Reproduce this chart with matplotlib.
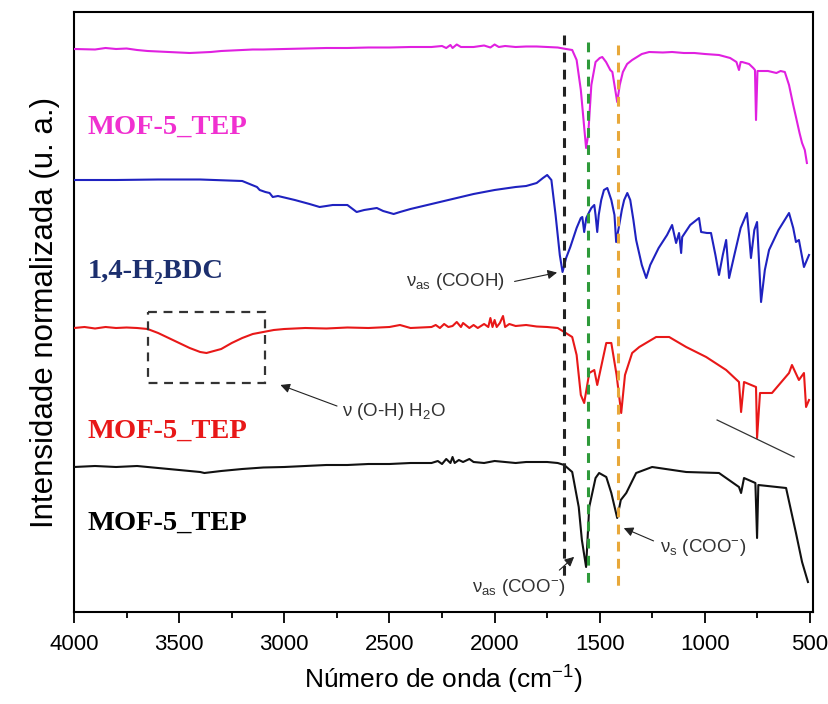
import matplotlib
matplotlib.use('Agg')
import matplotlib.pyplot as plt
from matplotlib.patches import Rectangle
from matplotlib.ticker import MultipleLocator

plt.rcParams['font.family'] = ['Liberation Sans', 'DejaVu Sans']
plt.rcParams['mathtext.fontset'] = 'custom'
plt.rcParams['mathtext.rm'] = 'Liberation Sans'
plt.rcParams['mathtext.it'] = 'Liberation Sans:italic'
plt.rcParams['mathtext.bf'] = 'Liberation Sans:bold'

# spectra: wavenumber (cm-1) and stacked intensity (offset units, larger = lower on plot)
wn_mag = [4000, 3900, 3850, 3800, 3750, 3700, 3650, 3600, 3550, 3500, 3450, 3400, 3350, 3300,
          3250, 3200, 3150, 3100, 3000, 2900, 2800, 2700, 2600, 2500, 2400, 2300, 2250, 2230,
          2210, 2200, 2180, 2160, 2100, 2050, 2020, 2000, 1980, 1950, 1900, 1850, 1800, 1750,
          1700, 1660, 1631, 1610, 1590,
          1575, 1565, 1555, 1540, 1520, 1500, 1488, 1470, 1450, 1440, 1430, 1417, 1405, 1390,
          1370, 1346, 1300, 1265, 1200, 1156, 1100, 1050, 1000, 933, 880, 850, 838, 830, 823,
          790, 770, 762, 757, 750, 720, 700, 680, 660, 640, 620, 600, 580, 567, 550, 538, 525, 515]
int_mag = [49, 49.5, 48, 49, 48.5, 50, 51, 51.5, 52, 52.5, 53, 52.5, 52, 51,
           50.5, 50, 49.5, 49.5, 49, 48.5, 48, 48, 47.5, 47.5, 47, 47, 46, 48,
           45, 48, 44.5, 47, 47, 45.5, 47.5, 44.5, 47, 46, 47, 46.5, 46.5, 47,
           47.5, 49, 50, 60, 90,
           125, 148, 135, 85, 62, 58, 57, 62, 70, 72, 85, 102, 85, 72,
           64, 60, 54, 52, 52.5, 52, 53, 53, 54, 55, 58, 62, 70, 62, 62,
           64, 68, 70, 120, 71, 71, 71, 72, 73, 71, 72, 85, 105, 117, 133, 143, 150, 163]

wn_bdc = [4000, 3800, 3600, 3400, 3200, 3130, 3117, 3090, 3070, 3055, 3030, 2950, 2880, 2832,
          2800, 2770, 2700, 2656, 2620, 2560, 2530, 2480, 2450, 2400, 2300, 2200, 2100, 2000,
          1900, 1850, 1800, 1770, 1750, 1730, 1710, 1690, 1677, 1660, 1640, 1610, 1590, 1583,
          1574, 1564, 1550, 1540, 1526, 1520, 1512, 1505, 1493, 1480, 1464, 1445, 1430, 1422,
          1410, 1395, 1384, 1369, 1355, 1340, 1327, 1300, 1279, 1260, 1220, 1180, 1156, 1137,
          1123, 1113, 1108, 1070, 1028, 1018, 990, 971, 950, 933, 915, 899, 885, 860, 830, 800,
          790, 781, 765, 752, 733, 715, 695, 650, 600, 580, 567, 553, 529, 505]
int_bdc = [180, 180, 179.5, 179.5, 181, 187, 190, 192, 193, 197, 196, 200, 204, 207,
           206, 205, 205, 212, 210, 208, 211, 214, 212, 209, 204, 199, 194, 190,
           187, 186, 183, 178, 175, 180, 215, 255, 272, 258, 247, 228, 218, 217,
           232, 218, 212, 208, 205, 215, 232, 215, 200, 190, 188, 200, 215, 242,
           228, 210, 200, 193, 200, 220, 240, 265, 278, 265, 248, 235, 225, 243,
           233, 253, 237, 225, 218, 232, 233, 233, 255, 275, 255, 240, 278, 255, 228, 213,
           235, 258, 230, 222, 302, 270, 250, 230, 213, 228, 242, 240, 267, 255]

wn_red = [4000, 3950, 3900, 3850, 3800, 3750, 3700, 3650, 3600, 3550, 3500, 3450, 3400, 3370,
          3300, 3250, 3200, 3150, 3100, 3050, 3000, 2900, 2800, 2700, 2600, 2500, 2450, 2400,
          2300, 2280, 2260, 2240, 2220, 2200, 2180, 2160, 2150, 2120, 2100, 2080, 2050, 2030,
          2020, 2010, 2000, 1990, 1975, 1960, 1950, 1930, 1900, 1850, 1800, 1750,
          1700, 1669, 1631, 1610, 1590, 1574, 1550, 1526, 1512, 1469, 1445, 1420, 1398, 1380,
          1346, 1312, 1232, 1170, 1089, 994, 899, 838, 828, 814, 757, 752, 738, 681, 600, 586,
          553, 529, 519, 505]
int_red = [328, 327, 328.5, 327, 328, 327.5, 328, 329, 333, 338, 343, 348, 352, 353,
           349, 343, 338, 334, 332, 330, 329, 328, 328.5, 327.5, 328, 327, 325, 328,
           327, 325, 328, 324, 327, 326, 322, 327, 323, 328, 325, 328, 324, 327,
           318, 327, 320, 327, 323, 316, 327, 324, 326, 325, 326.5, 327,
           328, 332, 337, 355, 395, 403, 373, 370, 385, 343, 343, 375, 413, 375,
           353, 347, 337, 337, 347, 357, 370, 382, 412, 382, 387, 438, 393, 393, 373, 365,
           380, 373, 407, 400]

wn_blk = [4000, 3900, 3800, 3700, 3600, 3500, 3400, 3380, 3300, 3200, 3100, 3000, 2900, 2800,
          2700, 2600, 2500, 2400, 2300, 2270, 2250, 2230, 2210, 2200, 2190, 2170, 2150, 2120,
          2100, 2050, 2000, 1950, 1900, 1850,
          1800, 1750, 1700, 1669, 1631, 1600, 1585, 1565, 1550, 1520, 1503, 1469, 1445, 1417,
          1400, 1374, 1327, 1251, 1089, 933, 838, 828, 814, 760, 752, 746, 614, 567, 538, 510]
int_blk = [467, 466, 467, 466, 468, 470, 472, 473, 471, 469, 467.5, 467, 466, 465,
           465, 464, 464, 463, 463, 461, 464, 459, 463, 457, 463, 460, 462, 459,
           462, 463, 461, 462, 463, 462,
           462, 462, 463, 465, 472, 507, 540, 567, 507, 478, 473, 477, 493, 518,
           500, 493, 473, 467, 472, 473, 487, 493, 478, 483, 538, 485, 488, 533, 562, 582]

series = [
    (wn_mag, int_mag, '#e020e0'),
    (wn_bdc, int_bdc, '#1f22c0'),
    (wn_red, int_red, '#e81818'),
    (wn_blk, int_blk, '#111111'),
]

labels = ['MOF-5_TEP', '1,4-H\u2082BDC', 'MOF-5_TEP', 'MOF-5_TEP']
label_colors = ['#f030d0', '#1c2f6e', '#e81818', '#000000']
label_y = [127, 271, 431, 523]

# band positions (cm-1) marked by dashed lines
bands = [1669, 1558, 1412]
band_colors = ['#222222', '#2e9a3a', '#e8a83a']
band_top = [35, 42, 45]
band_bottom = [577, 587, 590]

fig = plt.figure(figsize=(8.29, 7.04), dpi=100)
ax = fig.add_axes([74 / 829, 1 - 612 / 704, (813 - 74) / 829, (612 - 12) / 704])

for wn, inten, c in series:
    ax.plot(wn, inten, color=c, lw=1.5, zorder=3)

for b, c, t, bt in zip(bands, band_colors, band_top, band_bottom):
    ax.plot([b, b], [t, bt], color=c, lw=2.2, dashes=(3.2, 2.4), zorder=4)

for lab, c, y in zip(labels, label_colors, label_y):
    ax.text(3934, y, lab, color=c, fontsize=20.5, fontweight='bold',
            family=['Liberation Serif', 'DejaVu Serif'], va='center', ha='left')

# O-H box and annotations
ax.add_patch(Rectangle((3649, 312), 3093 - 3649, 383 - 312, fill=False, ec='#333333',
                       lw=1.6, ls=(0, (4, 3)), zorder=5))

arrow = dict(arrowstyle='-|>', color='#222222', lw=0.8, mutation_scale=14)
ax.annotate('', xy=(3031, 384), xytext=(2737, 407), arrowprops=arrow)
ax.text(2725, 412, '\u03bd (O-H) H$_2$O', fontsize=13.5, va='center', ha='left', color='#333333')

ax.annotate('', xy=(1690, 272), xytext=(1918, 282), arrowprops=arrow)
ax.text(1953, 281, '\u03bd$_{\\mathrm{as}}$ (COOH)', fontsize=13.5, va='center', ha='right',
        color='#333333')

ax.annotate('', xy=(1612, 555), xytext=(1702, 572), arrowprops=arrow)
ax.text(1665, 588, '\u03bd$_{\\mathrm{as}}$ (COO$^{-}$)', fontsize=13.5, va='center', ha='right',
        color='#333333')

ax.annotate('', xy=(1398, 527), xytext=(1232, 542), arrowprops=arrow)
ax.text(1215, 547, '\u03bd$_{\\mathrm{s}}$ (COO$^{-}$)', fontsize=13.5, va='center', ha='left',
        color='#333333')

ax.plot([942, 576], [420, 457], color='#333333', lw=0.9, zorder=5)

ax.set_xlim(4000, 486)
ax.set_ylim(612, 12)
ax.xaxis.set_major_locator(MultipleLocator(500))
ax.xaxis.set_minor_locator(MultipleLocator(250))
ax.set_yticks([])
ax.tick_params(axis='x', which='major', direction='out', length=8, width=1.3,
               labelsize=16, pad=8)
ax.tick_params(axis='x', which='minor', direction='out', length=4.5, width=1.3)
for s in ax.spines.values():
    s.set_linewidth(1.5)

ax.set_xlabel('N\u00famero de onda (cm$^{-1}$)', fontsize=19, labelpad=6)
ax.set_ylabel('Intensidade normalizada (u. a.)', fontsize=22.5, labelpad=10)

fig.savefig('out.png', dpi=100)
